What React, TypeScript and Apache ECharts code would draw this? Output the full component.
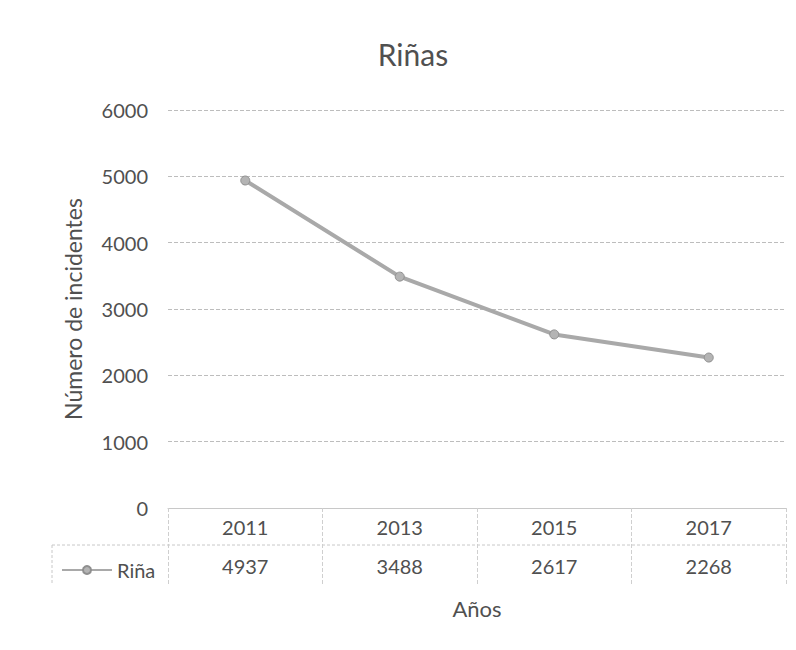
import React, { useEffect, useRef } from "react";
import * as echarts from "echarts";

const years = ["2011", "2013", "2015", "2017"];
const rinaValues = [4937, 3488, 2617, 2268];
const seriesName = "Riña";
const yTicks = { min: 0, max: 6000, interval: 1000 };

const TEXT = "#505050";
const FONT = "Lato, 'Open Sans', sans-serif";

export default function App() {
  const ref = useRef<HTMLDivElement>(null);
  useEffect(() => {
    document.body.style.margin = "0";
    const chart = echarts.init(ref.current!, null, { renderer: "svg" });
    const gridLeft = 168;
    const gridRight = 10;
    const gridTop = 110;
    const gridBottom = 142;
    const axisY = 650 - gridBottom;
    chart.setOption({
      animation: false,
      backgroundColor: "#ffffff",
      title: {
        text: "Riñas",
        left: 408,
        top: 34,
        textAlign: "center",
        textStyle: { color: TEXT, fontFamily: FONT, fontSize: 30, fontWeight: "normal" },
      },
      legend: {
        left: 56,
        top: 555,
        itemWidth: 50,
        itemHeight: 10,
        itemGap: 4,
        textStyle: { color: TEXT, fontFamily: FONT, fontSize: 20 },
        data: [seriesName],
      },
      grid: { left: gridLeft, right: gridRight, top: gridTop, bottom: gridBottom },
      xAxis: [
        {
          type: "category",
          data: years,
          boundaryGap: true,
          position: "bottom",
          axisLine: { show: true, lineStyle: { color: "#c8c8c8", width: 1 } },
          axisTick: { show: true, length: 77, lineStyle: { color: "#cfcfcf", type: "dashed" } },
          axisLabel: { color: TEXT, fontFamily: FONT, fontSize: 20, margin: 9 },
          splitLine: { show: false },
        },
        {
          type: "category",
          data: rinaValues.map(String),
          boundaryGap: true,
          position: "bottom",
          offset: 38,
          axisLine: { show: false },
          axisTick: { show: false },
          axisLabel: { color: TEXT, fontFamily: FONT, fontSize: 20, margin: 10 },
          name: "Años",
          nameLocation: "middle",
          nameGap: 51,
          nameTextStyle: { color: TEXT, fontFamily: FONT, fontSize: 22 },
        },
      ],
      yAxis: {
        type: "value",
        min: yTicks.min,
        max: yTicks.max,
        interval: yTicks.interval,
        axisLine: { show: false },
        axisTick: { show: false },
        axisLabel: {
          color: TEXT,
          fontFamily: FONT,
          fontSize: 20,
          margin: 20,
          formatter: (v: number) => String(v),
        },
        splitLine: { show: true, lineStyle: { color: "#bdbdbd", type: "dashed", width: 1 } },
        name: "Número de incidentes",
        nameLocation: "middle",
        nameGap: 84,
        nameRotate: 90,
        nameTextStyle: { color: TEXT, fontFamily: FONT, fontSize: 23 },
      },
      graphic: [
        {
          type: "line",
          shape: { x1: 52, y1: axisY + 37, x2: 796 - gridRight, y2: axisY + 37 },
          style: { stroke: "#c8c8c8", lineWidth: 1, lineDash: [3, 2] },
        },
        {
          type: "line",
          shape: { x1: 52, y1: axisY + 37, x2: 52, y2: axisY + 77 },
          style: { stroke: "#c8c8c8", lineWidth: 1, lineDash: [3, 2] },
        },
      ],
      series: [
        {
          name: seriesName,
          type: "line",
          data: rinaValues,
          xAxisIndex: 0,
          smooth: false,
          symbol: "circle",
          symbolSize: 9,
          itemStyle: { color: "#b4b4b4", borderColor: "#8f8f8f", borderWidth: 1 },
          lineStyle: { color: "#a9a9a9", width: 4 },
        },
      ],
    });
    return () => chart.dispose();
  }, []);
  return <div ref={ref} style={{ width: 796, height: 650 }} />;
}
